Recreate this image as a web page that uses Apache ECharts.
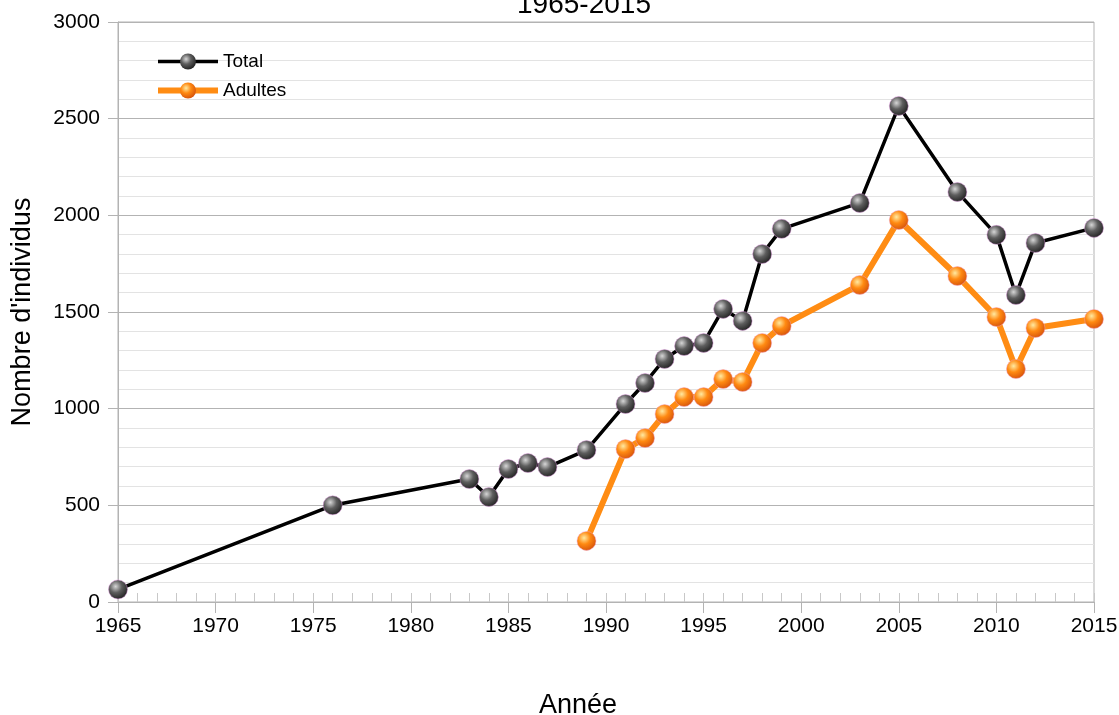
<!DOCTYPE html>
<html>
<head>
<meta charset="utf-8">
<style>html,body{margin:0;padding:0;background:#fff;}#c{width:1119px;height:715px;}</style>
<script src="https://cdn.jsdelivr.net/npm/echarts@6/dist/echarts.min.js"></script>
</head>
<body>
<div id="c"></div>
<script>
const titleText = "1965-2015";
const xName = "Année";
const yName = "Nombre d'individus";
const totalYears = [1965,1976,1983,1984,1985,1986,1987,1989,1991,1992,1993,1994,1995,1996,1997,1998,1999,2003,2005,2008,2010,2011,2012,2015];
const totalValues = [65,500,636,543,688,719,698,786,1024,1133,1257,1324,1340,1516,1454,1800,1930,2064,2566,2121,1899,1588,1857,1935];
const adultYears = [1989,1991,1992,1993,1994,1995,1996,1997,1998,1999,2003,2005,2008,2010,2011,2012,2015];
const adultValues = [316,791,848,972,1060,1060,1153,1138,1340,1428,1640,1976,1686,1474,1205,1417,1464];
const seriesNames = ["Total","Adultes"];

const FONT = "Liberation Sans";
const chart = echarts.init(document.getElementById('c'), null, {renderer:'canvas'});

function sphere(c0,c1,c2){
  return {type:'radial',x:0.38,y:0.35,r:0.7,colorStops:[{offset:0,color:c0},{offset:0.45,color:c1},{offset:1,color:c2}]};
}
const greyBall = sphere('#d6d6d6','#5e5e5e','#1e1e1e');
const orangeBall = sphere('#ffe9a0','#ff8a12','#d4500a');

const totalData = totalYears.map((y,i)=>[y,totalValues[i]]);
const adultData = adultYears.map((y,i)=>[y,adultValues[i]]);
const plain = v => String(v);

chart.setOption({
  animation:false,
  title:{text:titleText,left:579,textAlign:'center',top:-14,textStyle:{fontFamily:FONT,fontSize:28,fontWeight:'normal',color:'#000'}},
  grid:{left:118,right:25,top:22,bottom:113,outerBoundsMode:'none',containLabel:false,show:true,borderColor:'#b3b3b3',borderWidth:1},
  legend:{left:150,top:47,orient:'vertical',itemWidth:60,itemHeight:20,itemGap:10,
    textStyle:{fontFamily:FONT,fontSize:19,color:'#000'},
    data:[{name:seriesNames[0],lineStyle:{width:3.5,color:'#000'},itemStyle:{borderWidth:0}},
          {name:seriesNames[1],lineStyle:{width:6,color:'#ff8c13'},itemStyle:{borderWidth:0}}]},
  xAxis:[{
    type:'value',min:1965,max:2015,interval:5,
    name:xName,nameLocation:'middle',nameGap:90,
    nameTextStyle:{fontFamily:FONT,fontSize:27,color:'#000',padding:[0,56,0,0]},
    axisLine:{show:true,lineStyle:{color:'#b3b3b3',width:1}},
    axisTick:{show:true,inside:false,length:11,lineStyle:{color:'#b3b3b3'}},
    axisLabel:{fontFamily:FONT,fontSize:21,color:'#000',margin:14,formatter:plain},
    splitLine:{show:false}
  },{
    type:'value',position:'bottom',min:1965,max:2015,interval:1,
    axisLine:{show:false},
    axisTick:{show:true,inside:true,length:9,lineStyle:{color:'#c8c8c8'}},
    axisLabel:{show:false},splitLine:{show:false}
  }],
  yAxis:{
    type:'value',min:0,max:3000,interval:500,
    name:yName,nameLocation:'middle',nameGap:82,
    nameTextStyle:{fontFamily:FONT,fontSize:27,color:'#000'},
    axisLine:{show:true,lineStyle:{color:'#b3b3b3',width:1}},
    axisTick:{show:true,inside:false,length:10,lineStyle:{color:'#b3b3b3'}},
    axisLabel:{fontFamily:FONT,fontSize:21,color:'#000',margin:18,formatter:plain},
    splitLine:{show:true,lineStyle:{color:'#b3b3b3',width:1}},
    minorTick:{show:false,splitNumber:5},
    minorSplitLine:{show:true,lineStyle:{color:'#e3e3e3',width:1}}
  },
  series:[{
    name:seriesNames[0],type:'line',data:totalData,xAxisIndex:0,
    symbol:'circle',symbolSize:19,
    lineStyle:{color:'#000',width:3.5},
    itemStyle:{color:greyBall,borderColor:'rgba(220,150,220,0.6)',borderWidth:0.8},
    z:3
  },{
    name:seriesNames[1],type:'line',data:adultData,xAxisIndex:0,
    symbol:'circle',symbolSize:19,
    lineStyle:{color:'#ff8c13',width:6},
    itemStyle:{color:orangeBall,borderColor:'rgba(240,160,200,0.6)',borderWidth:0.8},
    z:4
  }]
});
</script>
</body>
</html>
